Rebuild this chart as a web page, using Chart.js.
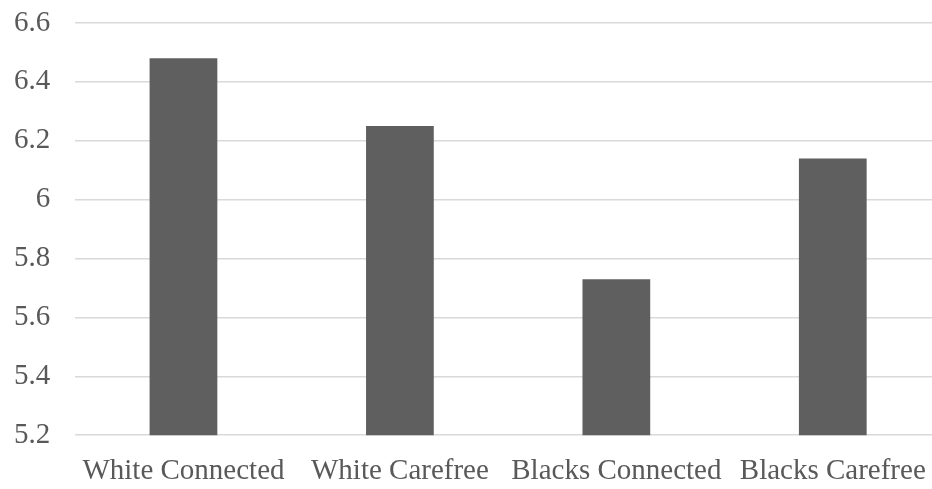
<!DOCTYPE html>
<html>
<head>
<meta charset="utf-8">
<script src="https://cdn.jsdelivr.net/npm/chart.js@4/dist/chart.umd.min.js"></script>
<style>
  html, body { margin: 0; padding: 0; background: #ffffff; overflow: hidden; }
  #wrap { position: relative; width: 942px; height: 489px; }
</style>
</head>
<body>
<div id="wrap"><canvas id="chart"></canvas></div>
<script>
// Mean scores per group
const categories = ['White Connected', 'White Carefree', 'Blacks Connected', 'Blacks Carefree'];
const scores = [6.48, 6.25, 5.73, 6.14];
const yMin = 5.2;
const yMax = 6.6;
const yStep = 0.2;

const textColor = '#595959';
const fontFamily = '"Liberation Serif", "Times New Roman", serif';

new Chart(document.getElementById('chart'), {
  type: 'bar',
  data: {
    labels: categories,
    datasets: [{
      data: scores,
      backgroundColor: '#5f5f5f',
      borderWidth: 0,
      categoryPercentage: 1,
      barPercentage: 0.313
    }]
  },
  options: {
    responsive: true,
    maintainAspectRatio: false,
    animation: false,
    layout: { padding: { left: 14, right: 1, top: 23, bottom: 0 } },
    plugins: {
      legend: { display: false },
      tooltip: { enabled: false }
    },
    scales: {
      x: {
        grid: { display: false, drawTicks: false },
        border: { display: false },
        ticks: {
          color: textColor,
          font: { family: fontFamily, size: 29 },
          padding: 19,
          maxRotation: 0,
          autoSkip: false
        },
        // padding is counted twice by fit(); keep it once, and ignore label overhang
        afterFit: (scale) => {
          scale.height -= scale.options.ticks.padding;
          scale.paddingLeft = 0;
          scale.paddingRight = 0;
        }
      },
      y: {
        min: yMin,
        max: yMax,
        grid: { color: '#d9d9d9', lineWidth: 1.5, drawTicks: false },
        border: { display: false },
        ticks: {
          stepSize: yStep,
          color: textColor,
          font: { family: fontFamily, size: 29 },
          padding: 25,
          callback: (v) => parseFloat(v.toFixed(1)).toString()
        },
        afterFit: (scale) => {
          scale.width -= scale.options.ticks.padding;
          scale.paddingTop = 0;
          scale.paddingBottom = 0;
        }
      }
    }
  }
});
</script>
</body>
</html>
